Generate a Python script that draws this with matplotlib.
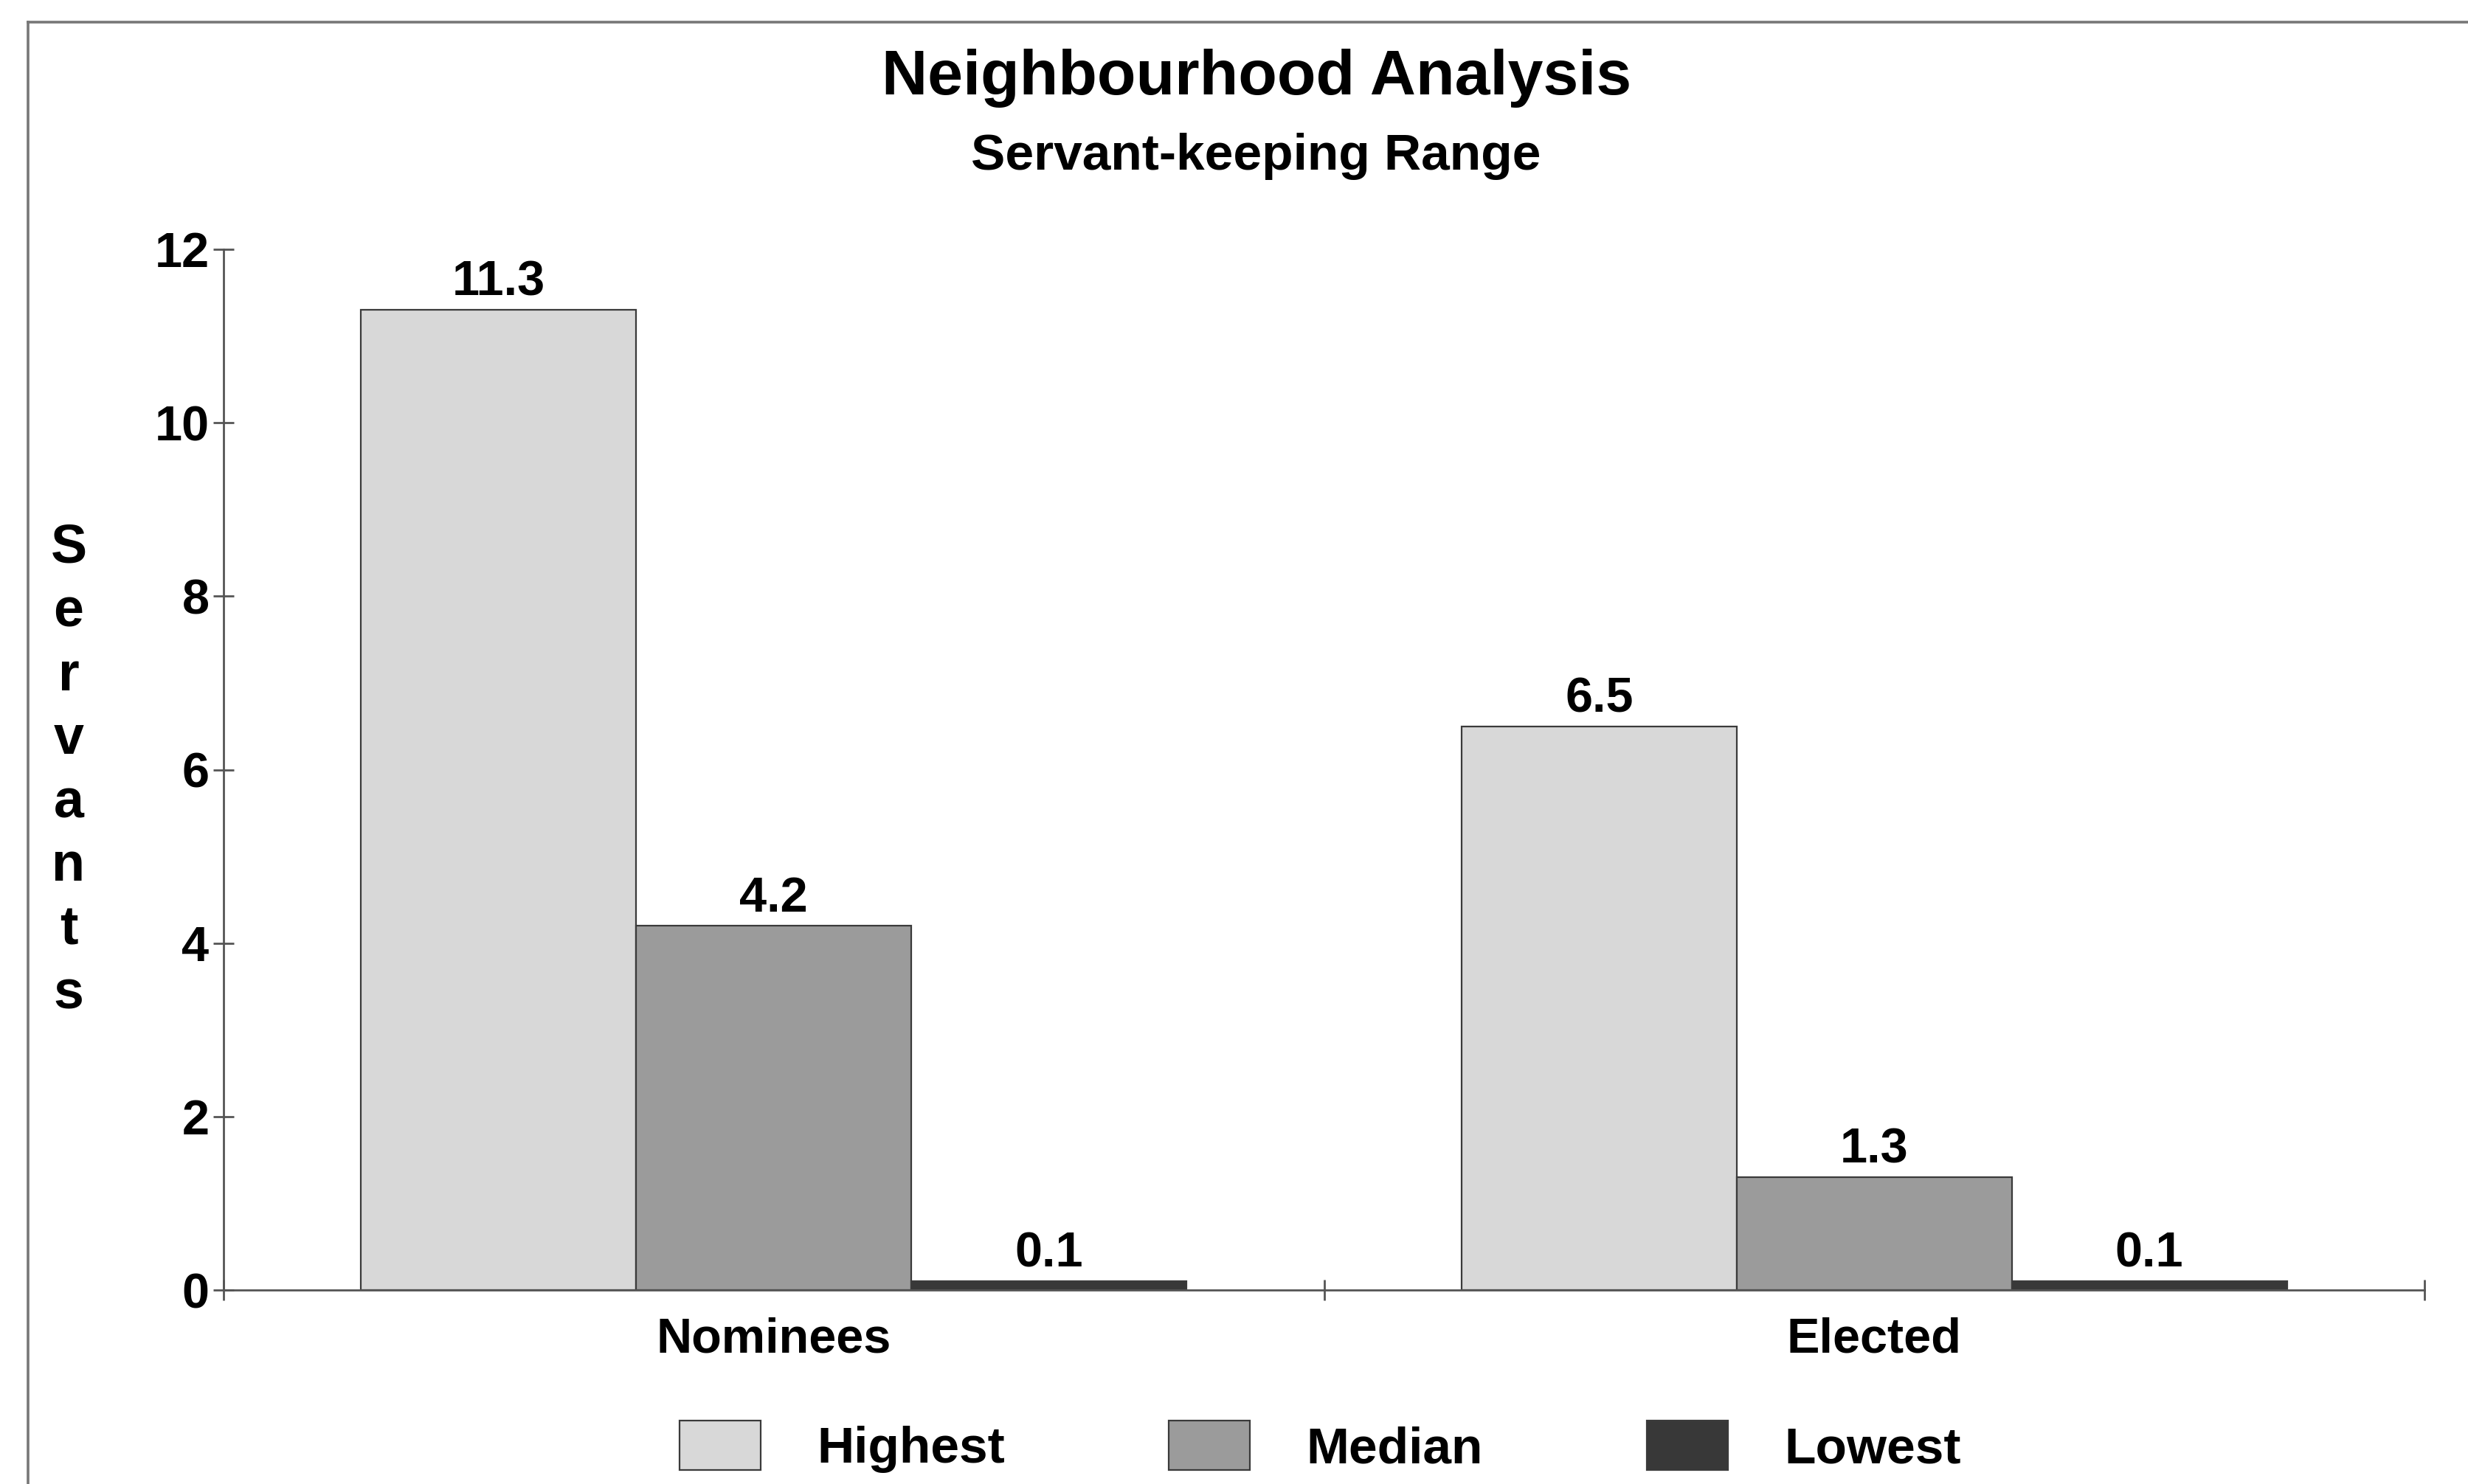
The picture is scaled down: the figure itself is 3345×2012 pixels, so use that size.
import matplotlib
matplotlib.use("Agg")
import matplotlib.pyplot as plt
import numpy as np
from matplotlib.lines import Line2D

# servants kept per household, by group
groups = ["Nominees", "Elected"]
series = ["Highest", "Median", "Lowest"]
highest = [11.3, 6.5]
median = [4.2, 1.3]
lowest = [0.1, 0.1]
yticks = [0, 2, 4, 6, 8, 10, 12]

colors = ["#d8d8d8", "#9b9b9b", "#383838"]

plt.rcParams["font.family"] = ["Liberation Sans", "DejaVu Sans"]
plt.rcParams["font.weight"] = "bold"

W, H = 3345, 2012
fig = plt.figure(figsize=(W / 200, H / 200), dpi=200)
fig.patch.set_facecolor("white")

ax = fig.add_axes([303 / W, 1 - 1749 / H, (3286 - 303) / W, (1749 - 338) / H])

x = np.arange(len(groups))
width = 0.25
for i, (name, vals, c) in enumerate(zip(series, [highest, median, lowest], colors)):
    bars = ax.bar(x + (i - 1) * width, vals, width, color=c,
                  edgecolor="#3a3a3a", linewidth=0.8, label=name, zorder=2)
    for b, v in zip(bars, vals):
        ax.annotate(f"{v:.1f}", (b.get_x() + b.get_width() / 2, v),
                    xytext=(0, 7), textcoords="offset points",
                    ha="center", va="baseline", fontsize=24)

ax.set_xlim(-0.5, 1.5)
ax.set_ylim(0, 12)
ax.set_yticks(yticks)
ax.set_xticks([-0.5, 0.5, 1.5])
ax.set_xticklabels([])
ax.set_xticks(x, minor=True)
ax.set_xticklabels(groups, minor=True)
ax.tick_params(axis="both", which="major", direction="inout", length=10,
               width=1, color="#555555", labelsize=24, pad=2)
ax.tick_params(axis="x", which="minor", length=0, pad=13, labelsize=24)

for side in ["top", "right"]:
    ax.spines[side].set_visible(False)
for side in ["left", "bottom"]:
    ax.spines[side].set_color("#555555")
    ax.spines[side].set_linewidth(1)

# stacked y label
step = 86.3 / H
for i, ch in enumerate("Servants"):
    fig.text(93 / W, 1 - 763 / H - i * step, ch, ha="center", va="baseline",
             fontsize=26.5)

fig.text(0.509, 1 - 128 / H, "Neighbourhood Analysis", ha="center",
         va="baseline", fontsize=31)
fig.text(0.509, 1 - 230 / H, "Servant-keeping Range", ha="center",
         va="baseline", fontsize=25)

fig.legend(loc="center", bbox_to_anchor=(0.535, 0.025), ncol=3,
           frameon=False, fontsize=25, handlelength=1.58, handleheight=1.1,
           handletextpad=1.1, columnspacing=3.2, borderpad=0,
           borderaxespad=0)

# outer frame (top and left edges)
fig.add_artist(Line2D([38 / W, 1], [1 - 30 / H, 1 - 30 / H],
                      transform=fig.transFigure, color="#777777", lw=1.3))
fig.add_artist(Line2D([38 / W, 38 / W], [0, 1 - 30 / H],
                      transform=fig.transFigure, color="#777777", lw=1.3))

fig.savefig("out.png", dpi=200)
